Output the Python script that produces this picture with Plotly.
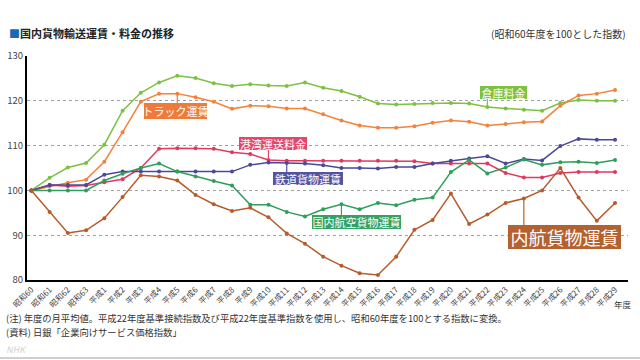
import plotly.graph_objects as go

years = ["昭和60", "昭和61", "昭和62", "昭和63"] + [f"平成{i}" for i in range(1, 30)]

souko = [100, 102.8, 105.1, 106.1, 110.2, 117.8, 121.8, 124.1, 125.6, 125.1, 123.9,
         123.3, 123.7, 123.4, 123.3, 124.1, 122.9, 122.2, 120.9, 119.4, 119.2, 119.3,
         119.5, 119.5, 119.4, 118.6, 118.3, 118.0, 117.8, 119.5, 120.2, 120.0, 120.0]
truck = [100, 100.9, 101.7, 102.4, 106.4, 113.0, 119.8, 121.6, 121.6, 120.8, 119.8,
         118.2, 118.9, 118.8, 118.3, 118.3, 117.0, 115.6, 114.5, 114.0, 114.0, 114.3,
         115.1, 115.6, 115.3, 114.5, 114.8, 115.2, 115.4, 118.9, 121.2, 121.6, 122.4]
kouwan = [100, 101.2, 100.9, 101.1, 101.8, 102.5, 105.0, 109.3, 109.4, 109.4, 109.3,
          108.5, 108.1, 106.8, 106.6, 106.6, 106.6, 106.6, 106.6, 106.6, 106.6, 106.5,
          106.0, 106.0, 106.0, 106.0, 103.9, 102.9, 102.9, 103.9, 104.1, 104.1, 104.1]
tetsudou = [100, 101.2, 101.2, 101.2, 103.5, 104.2, 104.2, 104.2, 104.2, 104.2, 104.2,
            104.2, 105.7, 106.2, 106.1, 106.0, 105.6, 105.0, 105.0, 104.9, 105.2, 105.2,
            106.0, 106.6, 107.1, 107.6, 106.0, 107.0, 106.7, 109.9, 111.5, 111.3, 111.3]
koukuu = [100, 100.0, 100.0, 100.0, 102.2, 103.7, 105.0, 106.0, 104.2, 103.1, 102.1,
          101.1, 96.8, 96.8, 95.2, 94.2, 95.8, 96.9, 95.8, 97.2, 96.7, 97.9,
          98.4, 104.1, 106.8, 103.8, 105.1, 106.9, 105.7, 106.3, 106.4, 106.1, 106.8]
naikou = [100, 95.2, 90.5, 91.1, 93.8, 98.5, 103.4, 103.1, 102.2, 99.0, 96.9,
          95.4, 96.1, 94.0, 90.4, 88.1, 85.2, 83.2, 81.5, 81.1, 85.2, 91.2,
          93.4, 99.3, 92.5, 94.6, 97.2, 98.2, 100.0, 105.0, 98.4, 93.2, 97.2]

series = [
    ("倉庫料金", souko, "#7cc142", "#7cc142"),
    ("トラック運賃", truck, "#f3823c", "#f07b38"),
    ("港湾運送料金", kouwan, "#e0395e", "#e4476b"),
    ("鉄道貨物運賃", tetsudou, "#4b4897", "#56529e"),
    ("国内航空貨物運賃", koukuu, "#2f9e5b", "#35a263"),
    ("内航貨物運賃", naikou, "#b65c2c", "#b5612f"),
]

# label placement: (series index, point index, xshift, yshift, connector px, width, height, font size)
labels = [
    (1, 8, -2, -17, -10, 63, 16, 11),
    (0, 25, 16, 15, 9, 47, 13, 11),
    (2, 13, 5, 16.5, 10, 68, 13, 11),
    (3, 14, 21, -15, -9, 70, 13, 11),
    (4, 17, 15.5, -17.5, -11, 89, 14, 11),
    (5, 27, 41, -39, -27, 113, 24, 18),
]

FONT = "Noto Sans CJK JP"
fig = go.Figure()
for name, vals, col, _ in series:
    fig.add_trace(go.Scatter(x=years, y=vals, mode="lines+markers", name=name,
                             line=dict(color=col, width=1.5),
                             marker=dict(color=col, size=4), showlegend=False))

annotations = []
shapes = []
for si, pi, xs, ys, conn, w, h, fs in labels:
    name, vals, col, boxcol = series[si]
    shapes.append(dict(type="line", xref="x", yref="y", x0=years[pi], x1=years[pi],
                       ysizemode="pixel", yanchor=vals[pi], y0=0, y1=conn,
                       line=dict(color=boxcol, width=1.2), layer="above"))
    annotations.append(dict(x=years[pi], y=vals[pi], xref="x", yref="y", text=name,
                            showarrow=False, xshift=xs, yshift=ys, bgcolor=boxcol,
                            font=dict(color="white", size=fs, family=FONT),
                            width=w, height=h, borderpad=0, borderwidth=0,
                            xanchor="center", yanchor="middle"))

L, R, T, B = 27, 12, 56, 80
PW, PH = 640 - L - R, 360 - T - B

def pix(x, y, text, size, color="#333", xanchor="left", weight="normal"):
    return dict(x=(x - L) / PW, y=(360 - B - y) / PH, xref="paper", yref="paper",
                text=text, showarrow=False, xanchor=xanchor, yanchor="middle",
                font=dict(size=size, color=color, family=FONT, weight=weight))

annotations.append(pix(7, 33.5, '<span style="color:#1569b8">■</span>国内貨物輸送運賃・料金の推移',
                       11, "#222", weight="bold"))
annotations.append(pix(628, 34, "(昭和60年度を100とした指数)", 10, "#333", xanchor="right"))
annotations.append(pix(4, 318, "(注) 年度の月平均値。平成22年度基準接続指数及び平成22年度基準指数を使用し、昭和60年度を100とする指数に変換。",
                       9.3, "#333"))
annotations.append(pix(4, 331.5, "(資料) 日銀「企業向けサービス価格指数」", 9.3, "#333"))
annotations.append(pix(612, 304, "年度", 8.5, "#333"))
annotations.append(pix(4, 349, "<i>NHK</i>", 9, "#d0d0d0"))

shapes.append(dict(type="rect", xref="paper", yref="paper",
                   x0=-L / PW, x1=(640 - L) / PW, y0=-(B - 1) / PH, y1=-(B - 3) / PH,
                   fillcolor="#cfcfcf", line=dict(width=0)))

fig.update_layout(
    width=640, height=360,
    margin=dict(l=L, r=R, t=T, b=B, autoexpand=False),
    paper_bgcolor="white", plot_bgcolor="white",
    annotations=annotations, shapes=shapes,
    font=dict(family=FONT, color="#444"),
    xaxis=dict(type="category", range=[-0.24, 32.71], tickangle=-45, automargin=False,
               tickfont=dict(size=8, color="#444"), showgrid=False,
               showline=True, linecolor="black", linewidth=2, ticks=""),
    yaxis=dict(range=[80, 130], dtick=10, tick0=80, showgrid=True, gridcolor="#a0a0a0",
               griddash="dot", gridwidth=1, zeroline=False, showline=True, automargin=False,
               linecolor="black", linewidth=2, ticks="",
               tickfont=dict(size=9.5, color="#444")),
)

fig.write_html("out.html", config={"displayModeBar": False},
               post_script="document.body.style.margin='0';document.body.style.overflow='hidden';")
